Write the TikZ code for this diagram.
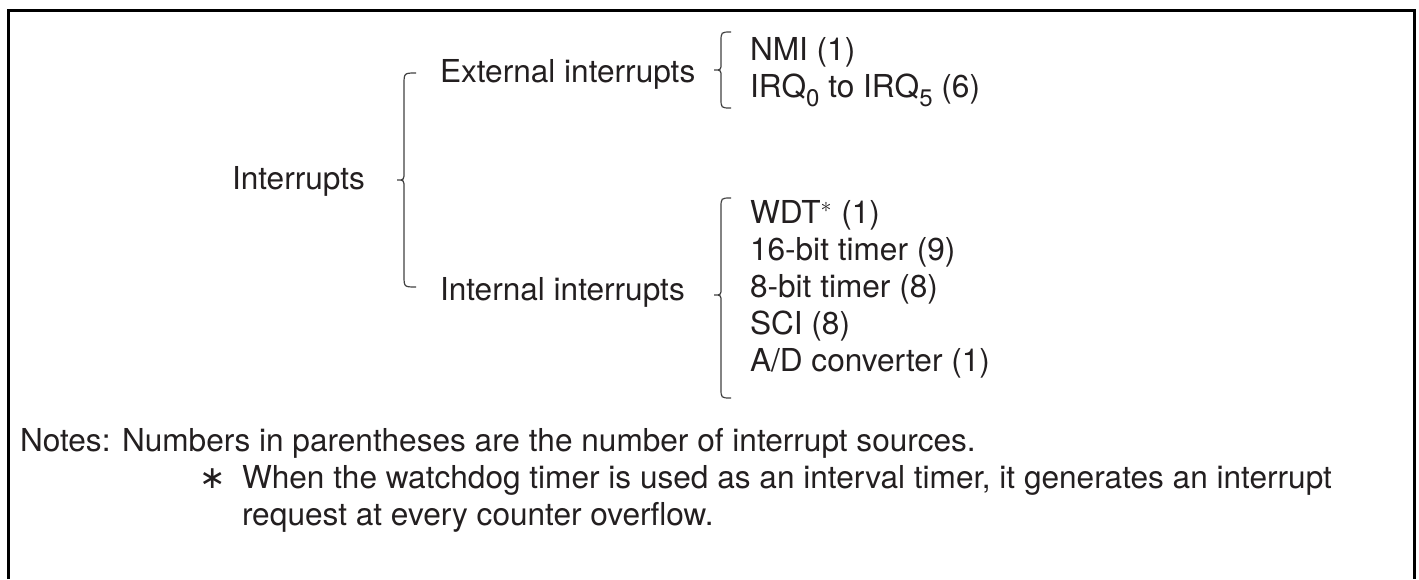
\documentclass[tikz,border=0pt]{standalone}
\usepackage{fontspec}
\setmainfont{TeX Gyre Heros}
\newfontfamily\symfont{DejaVu Sans}
\definecolor{txt}{HTML}{231F20}
\definecolor{brc}{HTML}{404040}
\newcommand\lowidx[1]{\raisebox{-0.6ex}{\fontsize{12}{12}\selectfont #1}}
\begin{document}
\begin{tikzpicture}[x=0.5pt,y=-0.5pt,
  lbl/.style={anchor=base west,inner sep=0pt,outer sep=0pt,text=txt,font=\fontsize{15.8}{18.5}\selectfont},
  brc/.style={draw=brc,line width=0.6pt},
  frame/.style={line width=1.5pt,line join=miter}]
\useasboundingbox (0,0) rectangle (1419,579);
\draw[frame] (8.5,579) -- (8.5,10) -- (1414.5,10) -- (1414.5,579);
% labels
\node[lbl] (int) at (232,189) {Interrupts};
\node[lbl] (ext) at (440,82) {External interrupts};
\node[lbl] (inn) at (440,300) {Internal interrupts};
\node[lbl] (nmi) at (750,60) {NMI (1)};
\node[lbl] (irq) at (750,97) {IRQ\lowidx{0} to IRQ\lowidx{5} (6)};
\node[lbl] (wdt) at (750,223) {WDT\textsuperscript{$\ast$} (1)};
\node[lbl] (t16) at (750,260) {16-bit timer (9)};
\node[lbl] (t8) at (750,297) {8-bit timer (8)};
\node[lbl] (sci) at (750,334) {SCI (8)};
\node[lbl] (adc) at (750,371) {A/D converter (1)};
% braces
\draw[brc] (416,73) .. controls (404,73) .. (404,85) -- (404,172) .. controls (404,180) .. (397,180)
  .. controls (404,180) .. (404,188) -- (404,275) .. controls (404,287) .. (416,287);
\draw[brc] (731,32) .. controls (721,32) .. (721,42) -- (721,63) .. controls (721,70) .. (714,70)
  .. controls (721,70) .. (721,77) -- (721,98) .. controls (721,108) .. (731,108);
\draw[brc] (731,198) .. controls (721,198) .. (721,208) -- (721,288) .. controls (721,295) .. (714,295)
  .. controls (721,295) .. (721,302) -- (721,388) .. controls (721,398) .. (731,398);
% notes
\node[lbl] (notes) at (20,451) {Notes:};
\node[lbl] (n1) at (122,451) {Numbers in parentheses are the number of interrupt sources.};
\node[lbl] (ast) at (199,488) {\symfont ∗};
\node[lbl] (n2) at (242,488) {When the watchdog timer is used as an interval timer, it generates an interrupt};
\node[lbl] (n3) at (242,525) {request at every counter overflow.};
\end{tikzpicture}
\end{document}
